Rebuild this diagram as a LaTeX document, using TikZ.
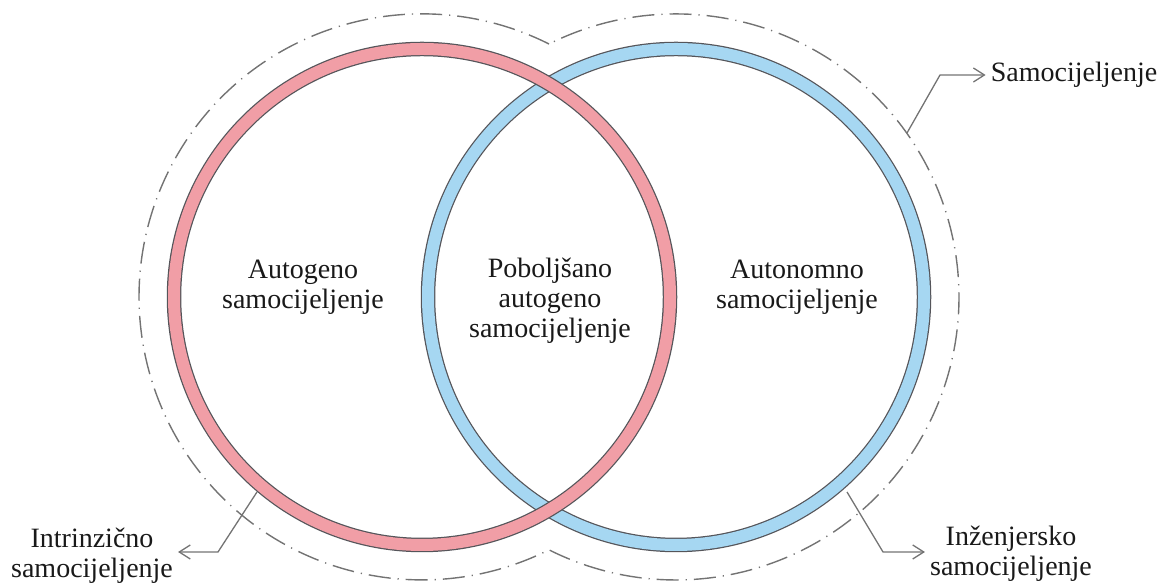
\documentclass[tikz,border=0pt]{standalone}
\usepackage{fontspec}
\setmainfont{Liberation Serif}
\usetikzlibrary{arrows.meta}
\definecolor{ringred}{RGB}{241,158,166}
\definecolor{ringblue}{RGB}{166,215,242}
\definecolor{ringedge}{RGB}{85,85,90}
\definecolor{dashgray}{RGB}{115,115,115}
\definecolor{txt}{RGB}{25,25,25}
\tikzset{
  ringout/.style={draw=ringedge, line width=14.5pt},
  ringin/.style={line width=12pt},
  outline/.style={draw=dashgray, line width=1.4pt, dash pattern=on 22pt off 7pt on 1.2pt off 7pt},
  conn/.style={draw=dashgray, line width=1.3pt, -{Straight Barb[length=11pt,width=14pt]}},
  lbl/.style={font=\fontsize{28}{30}\selectfont, text=txt, align=center, inner sep=5pt}
}
\begin{document}
\begin{tikzpicture}[x=1pt,y=1pt]
\useasboundingbox (0,0) rectangle (1167,585);
% outer dash-dot contour (union of two circles)
\coordinate (L) at (422,288);
\coordinate (R) at (676,288);
\draw[outline] (549,541) arc[start angle=63.35, end angle=296.65, radius=283]
   arc[start angle=-116.65, end angle=116.65, radius=283] -- cycle;
% blue ring (below)
\draw[ringout] (R) circle[radius=248];
\draw[ringin, draw=ringblue] (R) circle[radius=248];
% red ring (on top)
\draw[ringout] (L) circle[radius=248];
\draw[ringin, draw=ringred] (L) circle[radius=248];
% inner labels
\node[lbl] (auto) at (303,298) {Autogeno\\samocijeljenje};
\node[lbl] (pob) at (550,284) {Poboljšano\\autogeno\\samocijeljenje};
\node[lbl] (auton) at (797,298) {Autonomno\\samocijeljenje};
% outer labels
\node[lbl] (intr) at (92,29) {Intrinzično\\samocijeljenje};
\node[lbl] (inz) at (1011,31) {Inženjersko\\samocijeljenje};
\node[lbl] (samo) at (1074,510) {Samocijeljenje};
% connectors
\coordinate (c1) at (257,93);
\coordinate (b1) at (218,33);
\coordinate (c2) at (847,93);
\coordinate (b2) at (883,33);
\coordinate (c3) at (907,452);
\coordinate (b3) at (940,510);
\draw[conn] (c1) -- (b1) -- (b1 -| intr.east);
\draw[conn] (c2) -- (b2) -- (b2 -| inz.west);
\draw[conn] (c3) -- (b3) -- (b3 -| samo.west);
\end{tikzpicture}
\end{document}
